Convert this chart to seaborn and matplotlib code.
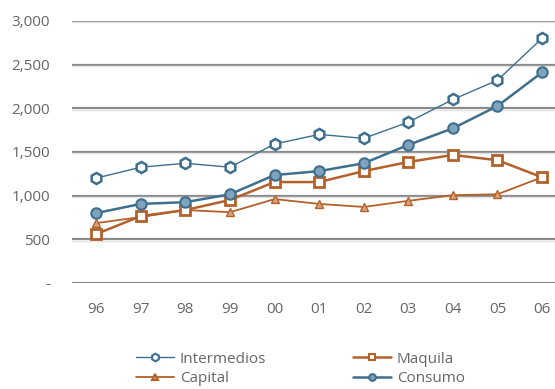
import matplotlib
matplotlib.use("Agg")
import matplotlib.pyplot as plt
from matplotlib.lines import Line2D
import seaborn as sns
import numpy as np
import pandas as pd

years = ["96", "97", "98", "99", "00", "01", "02", "03", "04", "05", "06"]
intermedios = [1200, 1325, 1370, 1325, 1590, 1700, 1655, 1840, 2100, 2320, 2800]
consumo = [800, 905, 925, 1015, 1235, 1280, 1370, 1580, 1770, 2025, 2410]
maquila = [560, 765, 835, 950, 1155, 1155, 1280, 1385, 1465, 1405, 1210]
capital = [685, 755, 835, 810, 960, 905, 870, 940, 1005, 1015, 1210]
y_ticks = [0, 500, 1000, 1500, 2000, 2500, 3000]
y_labels = ["-", "500", "1,000", "1,500", "2,000", "2,500", "3,000"]

BLUE = "#3f6f8f"
ORANGE = "#b3612a"

sns.set_theme(style="white")
plt.rcParams["font.family"] = ["Open Sans", "DejaVu Sans"]

fig = plt.figure(figsize=(5.55, 3.89), dpi=100)
ax = fig.add_axes([0.13, 0.2725, 0.87, 0.674])

pos = np.arange(len(years))
df = pd.DataFrame({"pos": pos, "Intermedios": intermedios, "Capital": capital,
                   "Maquila": maquila, "Consumo": consumo})

styles = {
    "Intermedios": dict(color=BLUE, lw=1.0, marker="h", ms=8, mfc="white", mec=BLUE, mew=1.8),
    "Capital": dict(color=ORANGE, lw=1.3, marker="^", ms=5.5, mfc="#d9a27a", mec=ORANGE, mew=1.0),
    "Maquila": dict(color=ORANGE, lw=1.8, marker="s", ms=6.5, mfc="white", mec=ORANGE, mew=2.0),
    "Consumo": dict(color=BLUE, lw=1.8, marker="o", ms=7.5, mfc="#7fa3bd", mec=BLUE, mew=1.5),
}
legend_ms = {"Intermedios": 5.5, "Capital": 4.5, "Maquila": 5, "Consumo": 4.8}
order = ["Intermedios", "Capital", "Maquila", "Consumo"]

for yv in y_ticks:
    ax.axhline(yv, color="#8a8a8a", lw=1.6, zorder=0)
    ax.axhline(yv - 18, color="#e4e4e4", lw=1.0, zorder=0)

for name in order:
    s = styles[name]
    sns.lineplot(data=df, x="pos", y=name, ax=ax, color=s["color"],
                 linewidth=s["lw"], marker=s["marker"], markersize=s["ms"],
                 markerfacecolor=s["mfc"], markeredgecolor=s["mec"],
                 markeredgewidth=s["mew"], zorder=3, legend=False)

ax.set_xlim(-0.54, 10.29)
ax.set_ylim(0, 3000)
ax.set_xticks(pos)
ax.set_xticklabels(years)
ax.set_yticks(y_ticks)
ax.set_yticklabels(y_labels)
ax.set_xlabel("")
ax.set_ylabel("")
for sp in ax.spines.values():
    sp.set_visible(False)
ax.tick_params(axis="y", length=0, pad=16, labelsize=11, labelcolor="#666666")
ax.tick_params(axis="x", length=0, pad=14, labelsize=11, labelcolor="#666666")

# legend keys with smaller markers than the plotted points
handles = []
for name in order:
    s = styles[name]
    handles.append(Line2D([], [], color=s["color"], lw=s["lw"], marker=s["marker"],
                          markersize=legend_ms[name], markerfacecolor=s["mfc"],
                          markeredgecolor=s["mec"], markeredgewidth=1.5))
ax.legend(handles, order, ncol=2, loc="upper left", bbox_to_anchor=(0.12, -0.238),
          frameon=False, fontsize=11, labelcolor="#666666", handlelength=2.45,
          handletextpad=0.4, columnspacing=5.7, labelspacing=0.3, borderaxespad=0)

fig.savefig("out.png", dpi=100)
